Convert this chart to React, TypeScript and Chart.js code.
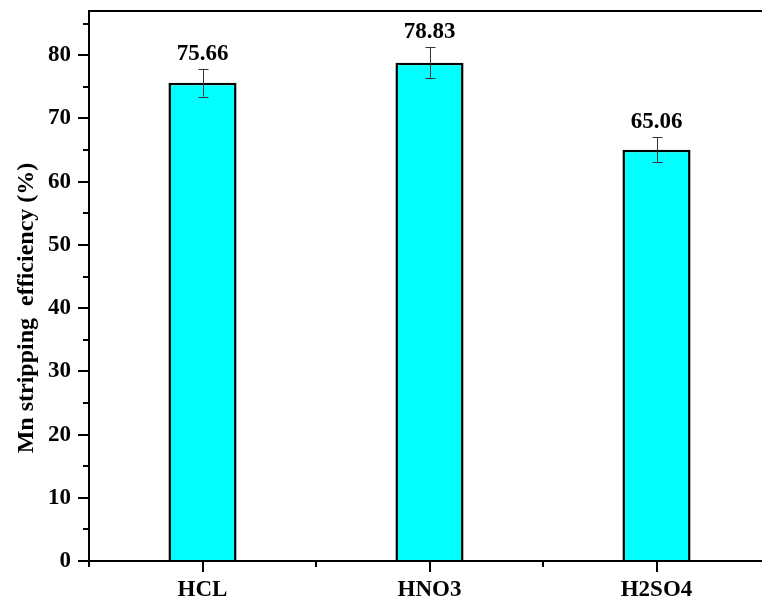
import React, { useEffect, useRef } from "react";
import { Chart, registerables } from "chart.js";

Chart.register(...registerables);

const categories = ["HCL", "HNO3", "H2SO4"];
const efficiency = [75.66, 78.83, 65.06];
const errors = [2.2, 2.4, 1.95];
const yMajorTicks = [0, 10, 20, 30, 40, 50, 60, 70, 80];
const yMinorTicks = [5, 15, 25, 35, 45, 55, 65, 75, 85];
const yTitle = "Mn stripping  efficiency (%)";
const Y_MIN = 0;
const Y_MAX = 87;

const FONT_FAMILY = "'Liberation Serif', 'Times New Roman', serif";

const decorPlugin = {
  id: "decor",
  afterDatasetsDraw(chart: any) {
    const ctx = chart.ctx;
    const y = chart.scales.y;
    const meta = chart.getDatasetMeta(0);
    ctx.save();
    ctx.strokeStyle = "#333333";
    ctx.lineWidth = 1;
    meta.data.forEach((bar: any, i: number) => {
      const cx = Math.round(bar.x) + 0.5;
      const yt = y.getPixelForValue(efficiency[i] + errors[i]);
      const yb = y.getPixelForValue(efficiency[i] - errors[i]);
      ctx.beginPath();
      ctx.moveTo(cx, yt);
      ctx.lineTo(cx, yb);
      ctx.moveTo(cx - 5, Math.round(yt) + 0.5);
      ctx.lineTo(cx + 5, Math.round(yt) + 0.5);
      ctx.moveTo(cx - 5, Math.round(yb) + 0.5);
      ctx.lineTo(cx + 5, Math.round(yb) + 0.5);
      ctx.stroke();
      ctx.fillStyle = "#000";
      ctx.font = `bold 23px ${FONT_FAMILY}`;
      ctx.textAlign = "center";
      ctx.textBaseline = "alphabetic";
      ctx.fillText(efficiency[i].toFixed(2), bar.x, yt - 9);
    });
    ctx.restore();
  },
  afterDraw(chart: any) {
    const ctx = chart.ctx;
    const { left, right, top, bottom } = chart.chartArea;
    const x = chart.scales.x;
    const y = chart.scales.y;
    ctx.save();
    ctx.strokeStyle = "#000";
    ctx.lineWidth = 2;
    ctx.beginPath();
    ctx.moveTo(left, top);
    ctx.lineTo(right, top);
    ctx.moveTo(left, top - 1);
    ctx.lineTo(left, bottom + 1);
    ctx.moveTo(left - 1, bottom);
    ctx.lineTo(right, bottom);
    ctx.moveTo(right, top - 1);
    ctx.lineTo(right, bottom + 1);
    ctx.stroke();
    // y ticks
    ctx.beginPath();
    yMajorTicks.forEach((v) => {
      const py = Math.round(y.getPixelForValue(v));
      ctx.moveTo(left - 11, py);
      ctx.lineTo(left, py);
    });
    yMinorTicks.forEach((v) => {
      const py = Math.round(y.getPixelForValue(v));
      ctx.moveTo(left - 6, py);
      ctx.lineTo(left, py);
    });
    // x ticks
    categories.forEach((_, i) => {
      const px = Math.round(x.getPixelForValue(i));
      ctx.moveTo(px, bottom);
      ctx.lineTo(px, bottom + 11);
    });
    for (let i = 0; i <= categories.length; i++) {
      const px = Math.round(x.getPixelForValue(i - 0.5));
      ctx.moveTo(px, bottom);
      ctx.lineTo(px, bottom + 6);
    }
    ctx.stroke();
    // y title
    ctx.translate(27, 308);
    ctx.rotate(-Math.PI / 2);
    ctx.fillStyle = "#000";
    ctx.font = `bold 24px ${FONT_FAMILY}`;
    ctx.textAlign = "center";
    ctx.textBaseline = "middle";
    ctx.fillText(yTitle, 0, 0);
    ctx.restore();
  },
};

export default function App() {
  const canvasRef = useRef<HTMLCanvasElement | null>(null);

  useEffect(() => {
    const canvas = canvasRef.current;
    if (!canvas) return;
    const tickFont = { family: FONT_FAMILY, size: 23, weight: "bold" as const };
    const chart = new Chart(canvas, {
      type: "bar",
      data: {
        labels: categories,
        datasets: [
          {
            data: efficiency,
            backgroundColor: "#00FFFF",
            borderColor: "#000000",
            borderWidth: 2.5,
            barPercentage: 0.3,
            categoryPercentage: 1,
          },
        ],
      },
      options: {
        animation: false,
        responsive: false,
        maintainAspectRatio: false,
        devicePixelRatio: 1,
        layout: { padding: { left: 0, top: 11, right: 20, bottom: 0 } },
        plugins: {
          legend: { display: false },
          tooltip: { enabled: false },
        },
        scales: {
          x: {
            type: "category",
            offset: true,
            grid: { display: false, drawTicks: false },
            border: { display: false },
            ticks: { font: tickFont, color: "#000", padding: 15, maxRotation: 0, autoSkip: false },
            afterFit(scale: any) {
              scale.height = 43;
              scale.paddingLeft = 0;
              scale.paddingRight = 0;
              scale.paddingTop = 0;
              scale.paddingBottom = 0;
            },
          },
          y: {
            min: Y_MIN,
            max: Y_MAX,
            grid: { display: false, drawTicks: false },
            border: { display: false },
            ticks: { font: tickFont, color: "#000", padding: 18, stepSize: 10, includeBounds: false },
            afterFit(scale: any) {
              scale.width = 89;
              scale.paddingLeft = 0;
              scale.paddingRight = 0;
              scale.paddingTop = 0;
              scale.paddingBottom = 0;
            },
          },
        },
      },
      plugins: [decorPlugin],
    });
    return () => chart.destroy();
  }, []);

  return (
    <div
      style={{
        position: "fixed",
        left: 0,
        top: 0,
        width: 762,
        height: 604,
        overflow: "hidden",
        background: "#ffffff",
      }}
    >
      <canvas ref={canvasRef} width={790} height={604} style={{ display: "block" }} />
    </div>
  );
}
